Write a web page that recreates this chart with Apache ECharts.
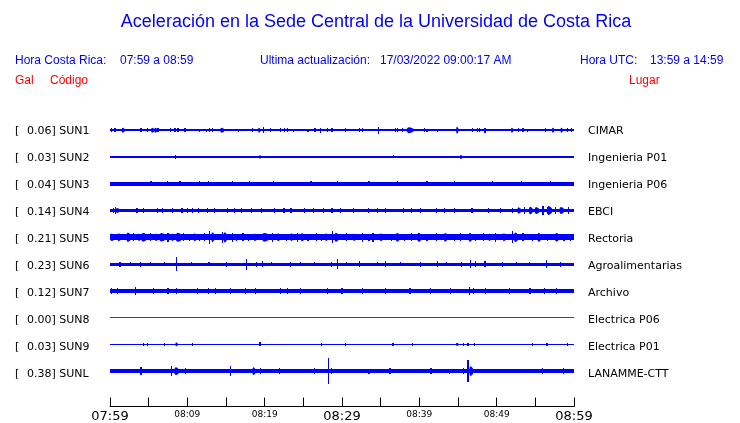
<!DOCTYPE html>
<html><head><meta charset="utf-8">
<script src="https://cdn.jsdelivr.net/npm/echarts@6/dist/echarts.min.js"></script>
<style>html,body{margin:0;padding:0;background:#fff}#c{width:740px;height:423px}</style>
</head><body><div id="c"></div>
<script>
// ---- data ----
const stations = ['SUN1','SUN2','SUN3','SUN4','SUN5','SUN6','SUN7','SUN8','SUN9','SUNL'];
const maxGal = ['0.06','0.03','0.04','0.14','0.21','0.23','0.12','0.00','0.03','0.38'];
const places = ['CIMAR','Ingenieria P01','Ingenieria P06','EBCI','Rectoria','Agroalimentarias','Archivo','Electrica P06','Electrica P01','LANAMME-CTT'];
const tickLabels = ['07:59','','08:09','','08:19','','08:29','','08:39','','08:49','','08:59'];
// background level (half amplitude) of each trace, relative units (27 = one row)
const baseLevel = [0.9, 0.7, 2.0, 1.4, 3.0, 1.5, 2.0, 0.8, 0.7, 2.0];
// bursts: [minute, half amplitude, duration in minutes (optional)]
const sun1 = [[0.2,2],[0.65,2],[1.7,2.5,0.4],[3.9,2],[4.1,2],[4.9,2],[5.5,2.5,0.4],[5.9,2.5,0.4],[6.2,2],[7.8,2],[8.4,2],[8.8,2],[9.7,2],[11.6,1.5],[12.5,1.5],[12.9,2],[13.3,2],[14.5,2.5,0.5],[16.6,1.5],[18.4,2],[19.3,2.5,0.3],[19.8,3],[20.7,2],[22,2],[22.6,2],[22.9,2],[23.7,1.5],[25.6,1.5],[26.5,2],[27.2,2.5],[28.1,2],[28.7,2],[30.4,2],[32.3,2],[32.6,2],[34.7,3.5],[36.9,2],[37.2,2],[37.8,2],[38.8,3,0.9],[40.7,2],[41,1.5],[42.3,1.5],[44.9,3.5,0.3],[46.9,2],[47.5,2],[47.8,2],[48.5,2.5],[52,2.5,0.3],[52.8,2],[53.4,2],[54,1.5],[56.3,2],[57.3,2.5,0.3],[58.4,2.5,0.3],[59.2,2],[59.7,2]];
const sun2 = [[8.5,1.8],[19.4,1.8,0.3],[36.7,1.5],[45.4,2,0.4]];
const sun3 = [[5.2,2.5],[5.4,2.5],[7.4,2.5],[9.05,2.5],[11.6,2.5],[12.7,2.5],[15.8,2.5],[18,2.5],[21.1,2.5],[26,2.5],[29.4,2.5],[33.5,2.5],[37.2,2.5],[41,2.5],[44.6,2.5],[49.5,2.5],[53.2,2.5],[57,2.5]];
const sun4 = [[0.4,3],[0.7,3.5],[1.0,2.5,0.5],[3.5,2.5],[4.3,2.8],[6.1,2.3],[6.8,2.6],[8.1,2.5],[9.3,2.2],[10,2.8],[10.7,2.4],[11.4,2.5],[12.6,2.2],[13.5,2.6],[15.2,3],[16.1,2.3],[17,2.5],[18.3,2.2],[19.6,3],[21.3,2.5],[22.5,2.2],[23.4,3],[25.1,2.4],[26.3,2.2],[27.6,3],[28.7,2.3],[29.8,2.8],[31.5,2.5],[33.4,2.4],[34.6,2.2],[35.6,3],[37.9,2.5],[39.0,2.2],[40.1,2.6],[42.2,3],[43.3,2.2],[44.5,2.5],[46.8,2.6],[48.9,2.4],[50.5,3],[52,2.8],[52.9,3.2,0.5],[53.6,3.5],[54.4,3.8,0.5],[55.2,3.5,0.6],[56,4.2],[56.8,4.5,0.7],[57.6,4],[58.4,3.6,0.6],[59.3,3.2]];
const sun5 = [[0.3,3.8,0.6],[1.2,4,0.5],[2.4,4.8,0.6],[3.0,4.2],[3.8,3.8,0.4],[4.4,4.5,0.8],[5.2,4.0],[6.0,3.8,0.5],[6.8,4.2,1.0],[7.5,4.6],[8.1,3.8,0.4],[8.9,4.6,0.9],[9.5,4.0],[10.3,3.8],[11.0,4.0,0.5],[11.6,3.8],[12.2,4.0],[12.9,6.7],[13.3,5.0,0.4],[14.5,5.8],[14.9,5.2,0.5],[15.8,4.4],[16.4,3.8],[17.2,4.0],[17.9,3.6],[18.8,3.8,0.5],[20.1,4.4,1.0],[21.0,4.6],[21.8,4.0,0.5],[22.8,3.6],[23.5,4.0,0.4],[24.2,4.8],[24.9,4.2,0.5],[25.6,3.6],[26.7,4.0],[27.3,3.8],[28.0,4.0,0.4],[28.8,6.0],[29.3,4.6,0.6],[30.6,4.2],[31.6,3.8,0.4],[32.6,4.4],[33.5,3.8],[34.0,4.8],[35.1,4.0,0.5],[36.4,3.8],[37.2,4.6,0.5],[38.1,3.8],[39.0,4.2],[40.0,4.6,0.6],[41.0,3.8],[42.2,4.0],[43.4,4.4,0.5],[44.5,3.8],[45.3,4.2],[46.6,4.6,0.5],[47.3,3.6],[48.3,4.0],[49.1,3.8,0.4],[49.8,4.4],[51.0,4.0,0.5],[52.1,6.0],[52.5,4.8,0.6],[53.4,4.2],[54.6,3.8],[55.5,4.6,0.5],[56.6,3.8],[57.8,4.4,0.6],[58.7,3.8],[59.6,3.8]];
const sun6 = [[1.3,2.5],[2.6,2.2],[3.9,2.5],[5.2,2.3],[7.0,2.2],[8.6,7.5],[10.5,2.4],[12.8,2.2],[15.1,2.5],[17.7,5.5],[18.9,2.5],[19.7,2.8],[20.9,2.3],[23.3,2.5],[24.6,2.2],[26.4,2.3],[28.6,2.5],[29.4,4.7],[30.6,2.4],[32.3,2.6],[34.6,2.3],[35.6,2.8],[37.6,2.2],[40.1,2.5],[42.3,3],[43.5,2.3],[45.4,2.5],[46.6,4],[47.3,2.8],[48.5,2.6],[50.8,2.5],[52.6,2.2],[54.2,2.4],[56.4,3.6],[58.2,2.5]];
const sun7 = [[0.2,3],[1.0,3],[3.3,4],[5.6,2.8],[7.5,2.9],[8.6,2.8],[11.3,3.2],[12.7,2.8],[13.6,2.9],[15.6,3.2],[17.5,2.8],[18.8,2.8],[22,2.9],[22.9,2.8],[24.6,2.8],[28.1,2.9],[30,2.8],[32.6,2.7],[35.6,2.9],[38.8,2.8],[41.4,2.8],[44,2.8],[46.5,4.2],[47.0,3.2],[48.6,2.8],[51.7,2.8],[54.3,2.8],[56.2,2.9],[57.7,3.2]];
const sun8 = [];
const sun9 = [[4.3,1.5],[4.9,1.5],[7.0,1.5],[8.6,2,0.3],[10.7,1.5],[19.4,2],[27.4,1.2],[30.4,1.2],[36.6,1.5],[39.1,1.2],[44.9,1.5,0.4],[45.7,1.8],[46.3,1.2],[47.1,1.2],[54.6,1.2],[56.5,1.2],[59.2,1.2]];
const sunL = [[2.0,2.2],[3.5,2.2],[4.0,4],[8.0,5],[8.6,4,0.6],[9.8,3],[10.6,2.2],[15.6,5],[18.6,4,0.4],[19.5,3],[21.9,3],[26.4,2.8],[27.4,2.2],[28.2,5],[28.2,13],[28.6,3],[33.5,2.5],[36.2,3],[41.5,3],[43.9,2.5],[45.7,3],[46.3,11],[46.7,5,0.5],[52.5,2.2],[55.9,2.8],[58.6,2.8],[59.2,2.2]];
const bursts = [sun1, sun2, sun3, sun4, sun5, sun6, sun7, sun8, sun9, sunL];

// ---- layout / style ----
const AMP_PER_ROW = 27;
const BLUE = '#0000ff', RED = '#ff0000';
const lineColors = stations.map((s, i) => i === 7 ? '#ff0000' : BLUE);
const bigTicks = [0, 6, 12];

const series = stations.map((s, row) => {
  const items = [[row, 0, 60, baseLevel[row], 0]];
  bursts[row].forEach(b => {
    const w = b[2] || 0.15;
    items.push([row, b[0] - w / 2, b[0] + w / 2, b[1], b[2] ? 1 : 0]);
  });
  return {
    type: 'custom', name: s, silent: true, animation: false, clip: false,
    encode: { x: [1, 2], y: 0 },
    data: items,
    renderItem: function (params, api) {
      const r = api.value(0), a = api.value(3) / AMP_PER_ROW;
      const t0 = api.value(1), t1 = api.value(2);
      const fill = lineColors[row];
      if (api.value(4)) {
        // wave packet: spindle shaped envelope
        const w = t1 - t0;
        const pts = [[t0, r], [t0 + w * 0.1, r - a * 0.7], [t0 + w * 0.3, r - a], [t0 + w * 0.6, r - a * 0.9], [t1, r - a * 0.5],
                     [t1, r + a * 0.5], [t0 + w * 0.6, r + a * 0.9], [t0 + w * 0.3, r + a], [t0 + w * 0.1, r + a * 0.7]].map(p => api.coord(p));
        return { type: 'polygon', shape: { points: pts }, style: { fill: fill } };
      }
      const p0 = api.coord([t0, r - a]);
      const p1 = api.coord([t1, r + a]);
      const x0 = Math.round(p0[0]);
      const w = Math.max(1, Math.round(p1[0]) - x0);
      const y0 = Math.round(p0[1]);
      const h = Math.max(1, Math.round(p1[1]) - y0);
      return { type: 'rect', shape: { x: x0, y: y0, width: w, height: h }, style: { fill: fill } };
    }
  };
});

const graphics = [];
const txt = (x, y, s, opt) => graphics.push(Object.assign({ type: 'text', x: x, y: y, silent: true,
  style: Object.assign({ text: s, fontFamily: 'Liberation Sans', fontSize: 12, fill: BLUE, verticalAlign: 'middle' }, opt || {}) }));
txt(376, 22, 'Aceleración en la Sede Central de la Universidad de Costa Rica', { fontSize: 18, align: 'center' });
txt(15, 61, 'Hora Costa Rica:');
txt(120, 61, '07:59 a 08:59');
txt(260, 61, 'Ultima actualización:');
txt(380, 61, '17/03/2022 09:00:17 AM');
txt(580, 61, 'Hora UTC:');
txt(650, 61, '13:59 a 14:59');
txt(15, 81, 'Gal', { fill: RED });
txt(50, 81, 'Código', { fill: RED });
txt(629, 81, 'Lugar', { fill: RED });

const rowY0 = 130.8, rowDy = 27.0;
stations.forEach((s, i) => {
  const y = rowY0 + i * rowDy;
  txt(15, y, '[', { fontFamily: 'DejaVu Sans', fontSize: 11, fill: '#000' });
  txt(27, y, maxGal[i] + '] ' + s, { fontFamily: 'DejaVu Sans', fontSize: 11, fill: '#000' });
  txt(588, y, places[i], { fontFamily: 'DejaVu Sans', fontSize: 11, fill: '#000' });
});

const chart = echarts.init(document.getElementById('c'), null, { renderer: 'canvas' });
chart.setOption({
  animation: false,
  backgroundColor: '#fff',
  grid: { left: 110, right: 166, top: 116.8, bottom: 14, containLabel: false },
  xAxis: {
    type: 'value', min: 0, max: 60, interval: 5,
    axisLine: { show: true, onZero: false, lineStyle: { color: '#000', width: 1 } },
    axisTick: { show: true, inside: true, length: 9, lineStyle: { color: '#000', width: 1 } },
    splitLine: { show: false },
    axisLabel: {
      show: true, margin: 3, hideOverlap: false, showMinLabel: true, showMaxLabel: true,
      fontFamily: 'DejaVu Sans', color: '#000',
      formatter: function (v) {
        const i = Math.round(v / 5);
        const s = tickLabels[i];
        if (!s) return '';
        return bigTicks.indexOf(i) >= 0 ? '{b|' + s + '}' : '{s|' + s + '}';
      },
      rich: {
        b: { fontSize: 13, fontFamily: 'DejaVu Sans', color: '#000', lineHeight: 14 },
        s: { fontSize: 9, fontFamily: 'DejaVu Sans', color: '#000', lineHeight: 11 }
      }
    }
  },
  yAxis: { type: 'value', min: -0.5, max: 10.32, inverse: true, show: false },
  graphic: graphics,
  series: series
});
</script></body></html>
